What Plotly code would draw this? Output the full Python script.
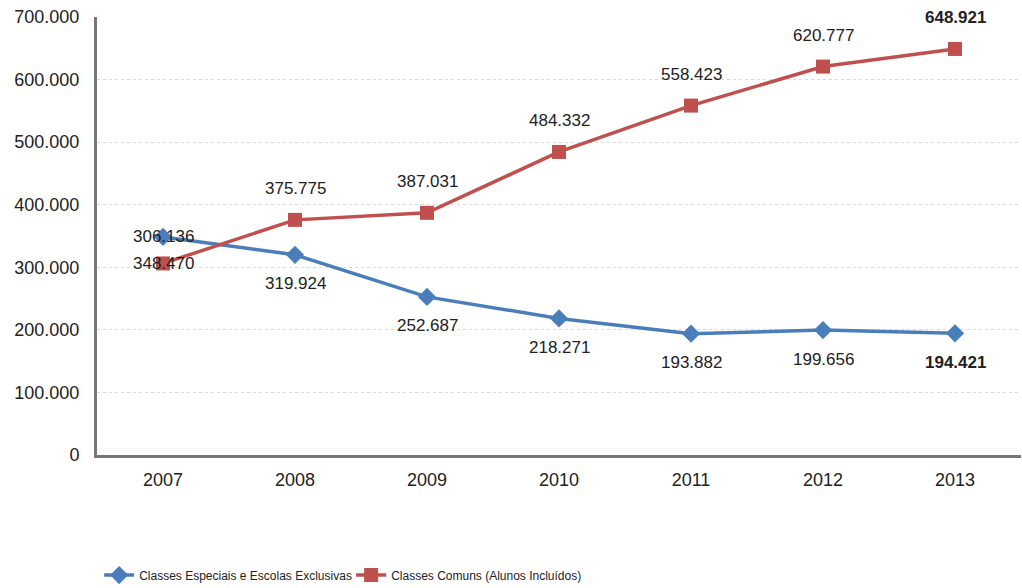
import plotly.graph_objects as go

years = ["2007", "2008", "2009", "2010", "2011", "2012", "2013"]
especiais = [348470, 319924, 252687, 218271, 193882, 199656, 194421]
comuns = [306136, 375775, 387031, 484332, 558423, 620777, 648921]
# labels as printed in the original (2007 labels appear swapped there)
especiais_labels = ["306.136", "319.924", "252.687", "218.271", "193.882", "199.656", "<b>194.421</b>"]
comuns_labels = ["348.470", "375.775", "387.031", "484.332", "558.423", "620.777", "<b>648.921</b>"]
especiais_shift = [0, -29, -29, -29, -29, -29, -29]
comuns_shift = [0, 31, 31, 31, 31, 31, 31]

y_ticks = [0, 100000, 200000, 300000, 400000, 500000, 600000, 700000]

BLUE = "#4A7EBB"
RED = "#C0504D"
FONT = "Liberation Sans, Arial, sans-serif"

fig = go.Figure()
fig.add_trace(go.Scatter(
    x=years, y=especiais, name="Classes Especiais e Escolas Exclusivas",
    mode="lines+markers", line=dict(color=BLUE, width=3.5),
    marker=dict(symbol="diamond", size=14, color=BLUE),
))
fig.add_trace(go.Scatter(
    x=years, y=comuns, name="Classes Comuns (Alunos Incluídos)",
    mode="lines+markers", line=dict(color=RED, width=3.5),
    marker=dict(symbol="square", size=14, color=RED),
))

annotations = []
for i, (v, t, s) in enumerate(zip(especiais, especiais_labels, especiais_shift)):
    annotations.append(dict(x=i, y=v, xref="x", yref="y", text=t, showarrow=False, yshift=s,
                            font=dict(family=FONT, size=17, color="#222")))
for i, (v, t, s) in enumerate(zip(comuns, comuns_labels, comuns_shift)):
    annotations.append(dict(x=i, y=v, xref="x", yref="y", text=t, showarrow=False, yshift=s,
                            font=dict(family=FONT, size=17, color="#222")))

fig.update_layout(
    width=1022, height=588,
    margin=dict(l=97, r=1, t=17, b=133),
    paper_bgcolor="white", plot_bgcolor="white",
    separators=",.",
    font=dict(family=FONT, size=18, color="#222"),
    annotations=annotations,
    showlegend=True,
    legend=dict(orientation="h", xref="container", yref="container",
                x=0.097, xanchor="left", y=0.022, yanchor="middle",
                font=dict(family=FONT, size=12, color="#222"),
                itemwidth=30, entrywidth=207, tracegroupgap=0),
    xaxis=dict(type="category", range=[-0.5, 6.5], showgrid=False,
               showline=True, linecolor="#777", linewidth=3,
               ticks="", tickfont=dict(size=18), ticklabelstandoff=6),
    yaxis=dict(range=[0, 700000], tickvals=y_ticks, tickformat=",d",
               showgrid=True, gridcolor="#d9d9d9", griddash="dot", gridwidth=1,
               showline=True, linecolor="#777", linewidth=3,
               ticks="", tickfont=dict(size=18), ticklabelstandoff=11,
               zeroline=False),
)

fig.write_html("out.html")
